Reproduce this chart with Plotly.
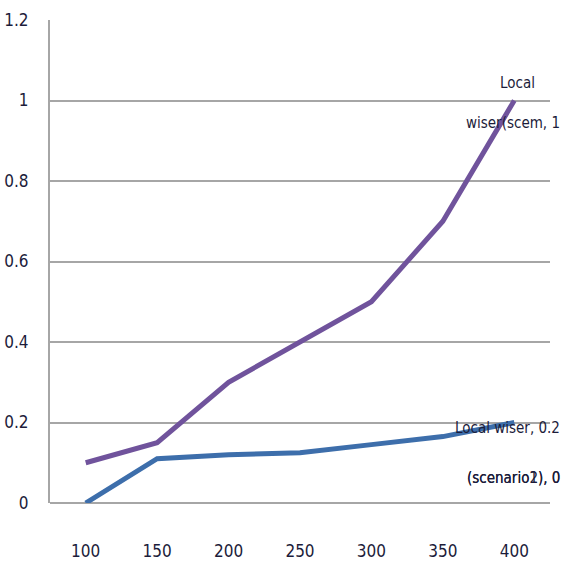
import plotly.graph_objects as go

# Categories along the horizontal axis
categories = ["100", "150", "200", "250", "300", "350", "400"]

# Series values
scenario_2 = [0.10, 0.15, 0.30, 0.40, 0.50, 0.70, 1.00]
scenario_1 = [0.00, 0.11, 0.12, 0.125, 0.145, 0.165, 0.20]

y_ticks = [0, 0.2, 0.4, 0.6, 0.8, 1, 1.2]
y_tick_text = ["0", "0.2", "0.4", "0.6", "0.8", "1", "1.2"]

FONT = "DejaVu Sans Condensed, Liberation Sans Narrow, Liberation Sans, sans-serif"
TEXT = "#1c1c3a"
GRID = "#a6a6a6"

fig = go.Figure()
fig.add_trace(go.Scatter(
    x=categories, y=scenario_1, mode="lines",
    line=dict(color="#3d6eab", width=5), name="Local wiser (scenario 1)",
))
fig.add_trace(go.Scatter(
    x=categories, y=scenario_2, mode="lines",
    line=dict(color="#70539c", width=5), name="Local wiser (scenario 2)",
))

# Data labels for the last point of each series, right-aligned at the chart edge
labels = [
    dict(y=scenario_2[-1], text="Local", xanchor="center", x=6, xref="x", xshift=3, yshift=18),
    dict(y=scenario_2[-1], text="wiser(scem, 1", xanchor="right", x=1, xref="paper", xshift=12, yshift=-22),
    dict(y=scenario_1[-1], text="Local wiser, 0.2", xanchor="right", x=1, xref="paper", xshift=12, yshift=-5),
    dict(y=scenario_1[-1], text="(scenario1), 0", xanchor="right", x=1, xref="paper", xshift=12, yshift=-55),
    dict(y=scenario_1[-1], text="(scenario2), 0", xanchor="right", x=1, xref="paper", xshift=12, yshift=-55),
]
for a in labels:
    fig.add_annotation(
        x=a["x"], y=a["y"], xref=a["xref"], yref="y", text=a["text"],
        showarrow=False, xanchor=a["xanchor"], yanchor="middle",
        xshift=a["xshift"], yshift=a["yshift"],
        font=dict(family=FONT, size=15, color=TEXT),
    )

fig.update_layout(
    width=565, height=572,
    margin=dict(l=50, r=15, t=20, b=69),
    paper_bgcolor="white", plot_bgcolor="white",
    showlegend=False,
    font=dict(family=FONT, size=17, color=TEXT),
)
fig.update_xaxes(
    type="category", range=[-0.5, 6.5], automargin=False,
    showgrid=False, zeroline=False, showline=False,
    ticks="", ticklabelstandoff=36,
    tickfont=dict(family=FONT, size=17, color=TEXT),
)
fig.update_yaxes(
    range=[0, 1.2], tickvals=y_ticks, ticktext=y_tick_text, automargin=False,
    showgrid=True, gridcolor=GRID, gridwidth=2,
    zeroline=True, zerolinecolor=GRID, zerolinewidth=2,
    showline=True, linecolor=GRID, linewidth=2,
    ticks="", ticklabelstandoff=16,
    tickfont=dict(family=FONT, size=17, color=TEXT),
)

fig.write_html("out.html")
